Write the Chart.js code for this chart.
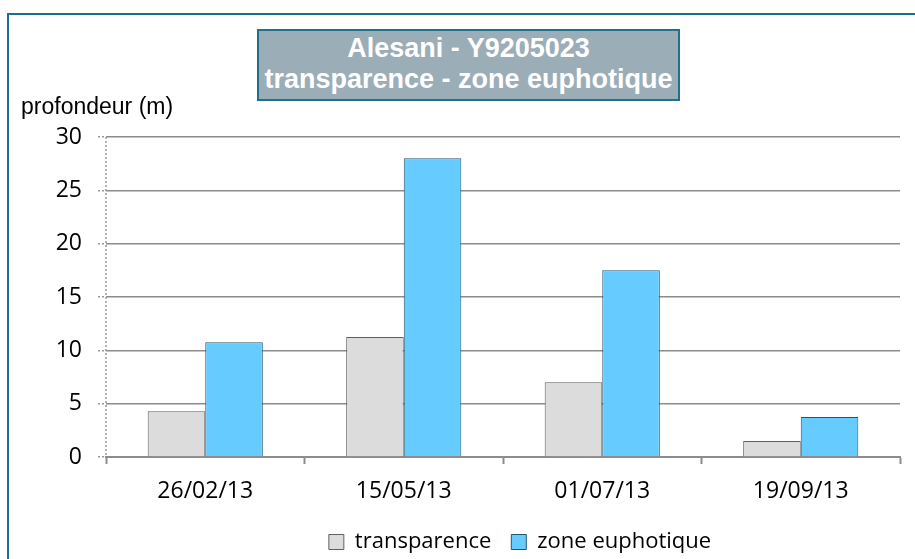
<!DOCTYPE html>
<html>
<head>
<meta charset="utf-8">
<script src="https://cdn.jsdelivr.net/npm/chart.js@4"></script>
<style>
    html, body { margin: 0; padding: 0; background: #fff; overflow: hidden; }
    .wrap { position: relative; width: 915px; height: 559px; overflow: hidden; }
    .frame {
        position: absolute; left: 7px; top: 13px; width: 1000px; height: 1000px;
        border-left: 2px solid #1b6f8e; border-top: 2px solid #1b6f8e;
    }
    canvas { position: absolute; left: 0; top: 0; }
    .title-box {
        position: absolute; left: 257px; top: 29px; width: 419px; height: 66px;
        background: #9badb7; border: 2px solid #23708c;
        color: #fff; font: bold 27px "Liberation Sans", Arial, sans-serif;
        text-align: center; line-height: 31px; padding-top: 2px;
    }
    .y-title {
        position: absolute; left: 21px; top: 93px;
        font: 23px "Liberation Sans", Arial, sans-serif; color: #000;
    }
</style>
</head>
<body>
<div class="wrap">
    <div class="frame"></div>
    <canvas id="chart" width="915" height="567"></canvas>
    <div class="title-box">Alesani - Y9205023<br>transparence - zone euphotique</div>
    <div class="y-title">profondeur (m)</div>
</div>
<script>
const categories = ["26/02/13", "15/05/13", "01/07/13", "19/09/13"];
const transparence = [4.3, 11.25, 7.0, 1.5];
const zoneEuphotique = [10.75, 28.0, 17.5, 3.75];
const seriesNames = ["transparence", "zone euphotique"];
const yTicks = [0, 5, 10, 15, 20, 25, 30];

const tickFont = { family: "'Open Sans', sans-serif", size: 23 };
const legendFont = { family: "'Open Sans', sans-serif", size: 22 };

// dotted vertical axis line, like the office chart
const dottedAxis = {
    id: "dottedAxis",
    afterDatasetsDraw(chart) {
        const { ctx, chartArea } = chart;
        ctx.save();
        ctx.strokeStyle = "#9a9a9a";
        ctx.lineWidth = 1.5;
        ctx.setLineDash([2, 2]);
        ctx.beginPath();
        ctx.moveTo(chartArea.left, chartArea.top);
        ctx.lineTo(chartArea.left, chartArea.bottom);
        ctx.stroke();
        ctx.restore();
    },
};

// the legend sits a bit right of the canvas centre in the original
const shiftLegend = {
    id: "shiftLegend",
    afterLayout(chart) {
        chart.legend.left += 70;
        chart.legend.right += 70;
    },
};

const ctx = document.getElementById("chart").getContext("2d");
const chart = new Chart(ctx, {
    type: "bar",
    data: {
        labels: categories,
        datasets: [
            {
                label: seriesNames[0],
                data: transparence,
                backgroundColor: "#dcdcdc",
                borderColor: "#5f5f5f",
                borderWidth: 1,
            },
            {
                label: seriesNames[1],
                data: zoneEuphotique,
                backgroundColor: "#66ccff",
                borderColor: "#24586c",
                borderWidth: 1,
            },
        ],
    },
    options: {
        responsive: false,
        animation: false,
        layout: { padding: { top: 137, left: 0, right: 15, bottom: 4 } },
        categoryPercentage: 0.58,
        barPercentage: 1,
        plugins: {
            title: { display: false },
            tooltip: { enabled: false },
            legend: {
                position: "bottom",
                labels: {
                    color: "#000",
                    font: legendFont,
                    boxWidth: 15,
                    boxHeight: 15,
                    padding: 20,
                },
            },
        },
        scales: {
            x: {
                offset: true,
                grid: {
                    offset: true,
                    drawOnChartArea: false,
                    drawTicks: true,
                    tickLength: 7,
                    tickColor: "#8c8c8c",
                    tickWidth: 2,
                },
                border: { color: "#8c8c8c", width: 2 },
                ticks: { color: "#000", font: tickFont, padding: 14 },
                afterFit: (scale) => { scale.height = 54; },
            },
            y: {
                min: 0,
                max: 30,
                afterBuildTicks: (scale) => {
                    scale.ticks = yTicks.map((v) => ({ value: v }));
                },
                grid: {
                    color: "#8c8c8c",
                    lineWidth: 1.5,
                    tickLength: 8,
                    tickColor: "#9a9a9a",
                    tickWidth: 1.5,
                    tickBorderDash: [2, 2],
                },
                border: { display: false },
                ticks: { color: "#000", font: tickFont, padding: 16 },
                afterFit: (scale) => { scale.width = 106; },
            },
        },
    },
    plugins: [dottedAxis, shiftLegend],
});
</script>
</body>
</html>
